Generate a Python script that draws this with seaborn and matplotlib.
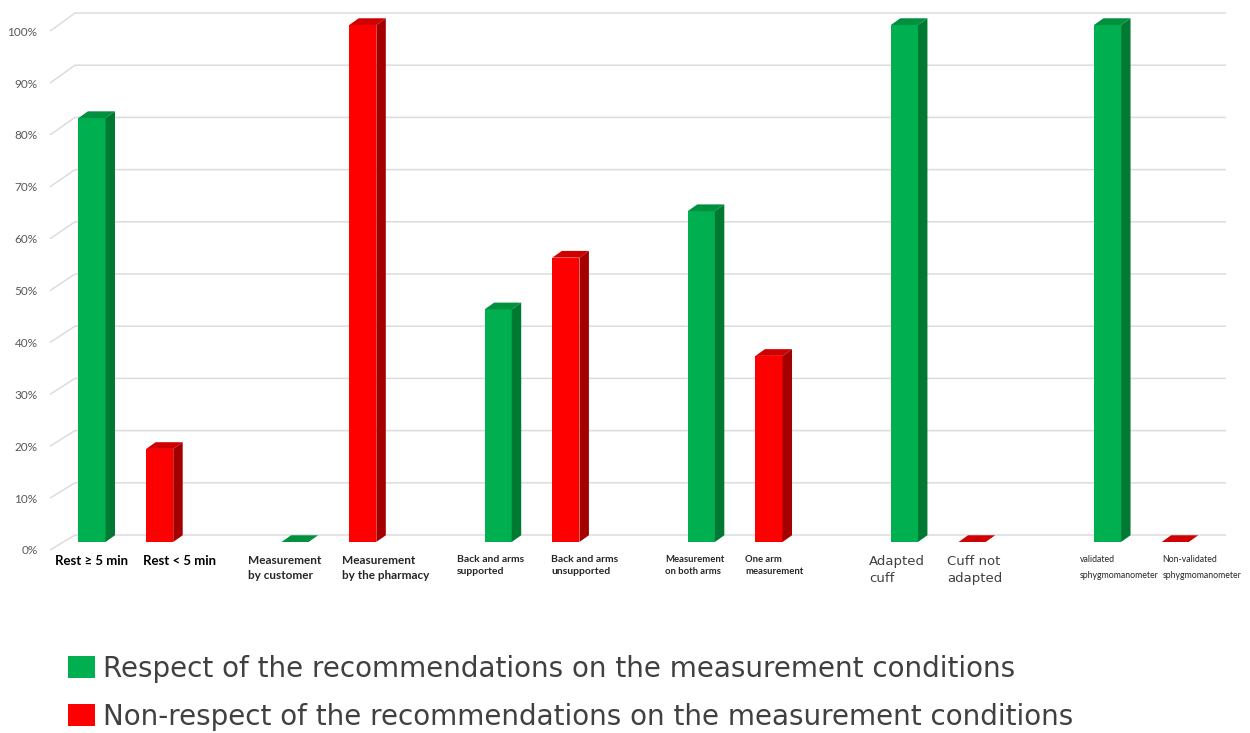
import numpy as np
import pandas as pd
import seaborn as sns
import matplotlib.pyplot as plt
from matplotlib.patches import Polygon, Patch
from matplotlib.colors import to_rgb

# Measurement conditions, paired as (respected, not respected)
categories = [
    "Rest ≥ 5 min", "Rest < 5 min",
    "Measurement\nby customer", "Measurement\nby the pharmacy",
    "Back and arms\nsupported", "Back and arms\nunsupported",
    "Measurement\non both arms", "One arm\nmeasurement",
    "Adapted\ncuff", "Cuff not\nadapted",
    "validated\nsphygmomanometer", "Non-validated\nsphygmomanometer",
]
values = [82, 18, 0, 100, 45, 55, 64, 36, 100, 0, 100, 0]
series = [
    "Respect of the recommendations on the measurement conditions",
    "Non-respect of the recommendations on the measurement conditions",
]
compliance = [series[i % 2] for i in range(len(values))]
y_ticks = list(range(0, 101, 10))
y_tick_labels = [f"{v}%" for v in y_ticks]

GREEN, RED = "#00B050", "#FF0000"
palette = {series[0]: GREEN, series[1]: RED}
# side / top face shades for the extruded look
shades = {GREEN: ("#007A33", "#00903E"), RED: ("#A50000", "#D00000")}

sns.set_style("white")
plt.rcParams["font.family"] = ["Lato", "DejaVu Sans"]

# each pair of bars is followed by an empty slot
slot = [i + i // 2 for i in range(len(values))]
df = pd.DataFrame({"slot": slot, "value": values, "compliance": compliance,
                   "label": categories})

fig = plt.figure(figsize=(12.5, 7.33), dpi=100)
ax = fig.add_axes([50 / 1250, 183 / 733, 1176 / 1250, 540 / 733])

sns.barplot(data=df, x="slot", y="value", hue="compliance",
            hue_order=series, palette=palette, native_scale=True,
            dodge=False, width=0.4, saturation=1, linewidth=0,
            legend=False, ax=ax, zorder=3)

x_left, x_right = -0.62, 16.75
ax.set_xlim(x_left, x_right)
ax.set_ylim(-1.55, 102.9)

# back wall gridlines with a short perspective floor edge
front_y = [-1.55 + v * 1.0035 for v in y_ticks]
back_y = [1.35 + v * 1.0097 for v in y_ticks]
x_wall = -0.251
for fy, by in zip(front_y, back_y):
    ax.plot([x_left, x_wall, x_right], [fy, by, by], color="#DCDCDC",
            lw=1.1, zorder=0, solid_capstyle="butt", clip_on=False)

ax.set_yticks(front_y, y_tick_labels)
ax.tick_params(axis="y", length=0, pad=9, labelsize=8.5, labelcolor="#595959")
ax.set_xticks([])
ax.set_xlabel("")
ax.set_ylabel("")
for s in ax.spines.values():
    s.set_visible(False)

# extrude each bar: right side face and top face
dx, dy = 0.14, 1.3
for p in list(ax.patches):
    x0, w, h = p.get_x(), p.get_width(), p.get_height()
    fc = to_rgb(p.get_facecolor())
    key = GREEN if np.allclose(fc, to_rgb(GREEN), atol=0.02) else RED
    side, top = shades[key]
    ax.add_patch(Polygon([(x0, h), (x0 + w, h), (x0 + w + dx, h + dy),
                          (x0 + dx, h + dy)], closed=True, fc=top, ec="none",
                         zorder=4))
    if h > 0:
        ax.add_patch(Polygon([(x0 + w, 0), (x0 + w + dx, dy),
                              (x0 + w + dx, h + dy), (x0 + w, h)],
                             closed=True, fc=side, ec="none", zorder=4))

# category labels, one style per pair
label_styles = [
    dict(family=["Lato", "DejaVu Sans"], weight="bold", size=9.5,
         color="black", linespacing=1.4),
    dict(family=["Lato", "DejaVu Sans"], weight="bold", size=8.5,
         color="#262626", linespacing=1.4),
    dict(family=["Lato", "DejaVu Sans"], weight="bold", size=7.5,
         color="#262626", linespacing=1.4),
    dict(family=["Lato", "DejaVu Sans"], weight="bold", size=6.8,
         color="#262626", linespacing=1.4),
    dict(family=["DejaVu Sans"], weight="normal", size=9.5,
         color="#404040", linespacing=1.4),
    dict(family=["Lato", "DejaVu Sans"], weight="normal", size=6.3,
         color="#262626", linespacing=1.9),
]
label_shift = [-0.55, -0.25, -0.69, -0.30, -0.61, -0.22,
               -0.53, -0.35, -0.52, -0.37, -0.41, -0.19]
for i, row in df.iterrows():
    st = label_styles[i // 2]
    ax.text(row["slot"] + label_shift[i], -2.6, row["label"], ha="left",
            va="top", clip_on=False, **st)

handles = [Patch(fc=palette[s], ec="none") for s in series]
fig.legend(handles, series, loc="upper left",
           bbox_to_anchor=(68 / 1250, 1 - 655 / 733), frameon=False,
           prop={"family": "DejaVu Sans", "size": 20}, labelcolor="#404040",
           handlelength=0.97, handleheight=0.83, handletextpad=0.3,
           labelspacing=0.72, borderpad=0, borderaxespad=0)

fig.savefig("out.png", dpi=100)
